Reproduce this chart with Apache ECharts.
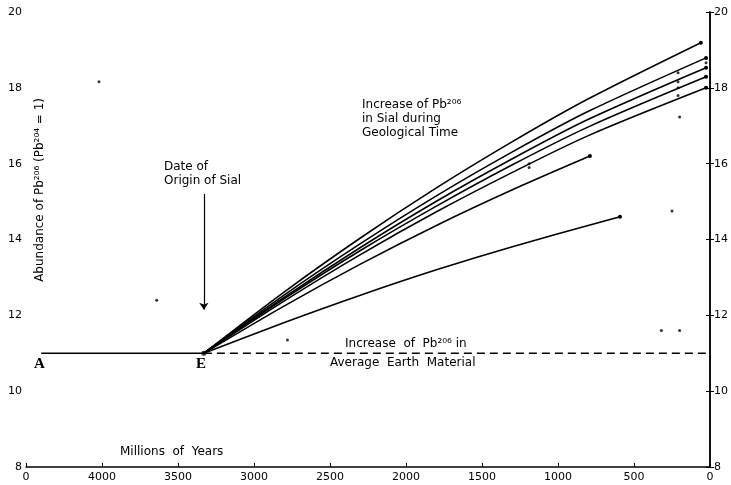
<!DOCTYPE html>
<html>
<head>
<meta charset="utf-8">
<script src="https://cdn.jsdelivr.net/npm/echarts@6/dist/echarts.min.js"></script>
<style>
  html, body { margin: 0; padding: 0; background: #fff; }
  #main { width: 731px; height: 485px; }
</style>
</head>
<body>
<div id="main"></div>
<script>
// x = millions of years before present (axis runs 4500 -> 0)
var xTicks = [4500, 4000, 3500, 3000, 2500, 2000, 1500, 1000, 500, 0];
var yTicks = [8, 10, 12, 14, 16, 18, 20];

// Pb206 abundance in average earth material
var earthYearsSolid = [4400, 3330];
var earthYearsDashed = [3330, 0];
var earthLevel = 11.0;

// growth curves of Pb206 in sial, starting at E
var curveYears = [3330, 2800, 2300, 1800, 1300, 800];
var endYears = [60, 26, 26, 26, 26];
var sial1 = [11.0, 12.62, 14.04, 15.36, 16.58, 17.71, 19.19];
var sial2 = [11.0, 12.54, 13.89, 15.15, 16.31, 17.38, 18.79];
var sial3 = [11.0, 12.48, 13.79, 15.01, 16.13, 17.17, 18.53];
var sial4 = [11.0, 12.44, 13.71, 14.88, 15.97, 16.97, 18.29];
var sial5 = [11.0, 12.38, 13.60, 14.73, 15.77, 16.74, 18.00];
var shortYears6 = [3330, 2800, 2300, 1800, 1300, 790];
var sial6 = [11.0, 12.25, 13.35, 14.37, 15.31, 16.20];
var shortYears7 = [3330, 2800, 2300, 1800, 1300, 592];
var sial7 = [11.0, 11.81, 12.53, 13.20, 13.81, 14.60];

// loose measured points
var dotYears = [210, 210, 210, 210, 200, 26, 1190, 1190, 250, 4020, 3640, 2780, 320, 200];
var dotValues = [18.4, 18.16, 18.0, 17.8, 17.23, 18.66, 16.0, 15.9, 14.75, 18.16, 12.4, 11.35, 11.6, 11.6];

function pairs(xs, ys) {
  return xs.map(function (x, i) { return [x, ys[i]]; });
}

var chart = echarts.init(document.getElementById('main'));
var font = 'DejaVu Sans';

var curves = [sial1, sial2, sial3, sial4, sial5].map(function (vals, k) {
  return pairs(curveYears.concat([endYears[k]]), vals);
});
curves.push(pairs(shortYears6, sial6));
curves.push(pairs(shortYears7, sial7));

var series = curves.map(function (d) {
  return {
    type: 'line',
    data: d,
    smooth: 0.3,
    showSymbol: true,
    symbol: 'circle',
    symbolSize: function (v, p) { return p.dataIndex === d.length - 1 ? 4 : 0; },
    lineStyle: { color: '#000', width: 1.6 },
    itemStyle: { color: '#000' },
    silent: true
  };
});

series.push({
  type: 'line',
  data: earthYearsSolid.map(function (x) { return [x, earthLevel]; }),
  showSymbol: false,
  lineStyle: { color: '#000', width: 1.3 }
});
series.push({
  type: 'line',
  data: earthYearsDashed.map(function (x) { return [x, earthLevel]; }),
  showSymbol: false,
  lineStyle: { color: '#000', width: 1.3, type: [8, 5] },
  markLine: {
    silent: true,
    symbol: ['none', 'arrow'],
    symbolSize: 7,
    label: { show: false },
    lineStyle: { color: '#000', width: 1.2, type: 'solid' },
    data: [[{ coord: [3330, 15.2] }, { coord: [3330, 12.15] }]]
  }
});
series.push({
  type: 'scatter',
  data: pairs(dotYears, dotValues),
  symbolSize: 3,
  itemStyle: { color: '#000' }
});
series.push({
  type: 'scatter',
  data: [[3330, earthLevel]],
  symbolSize: 5,
  itemStyle: { color: '#000' }
});

var labelStyle = { color: '#000', fontFamily: font, fontSize: 11 };

var option = {
  backgroundColor: '#fff',
  animation: false,
  grid: { left: 26, right: 21, top: 12, bottom: 18 },
  xAxis: {
    type: 'value',
    inverse: true,
    min: 0,
    max: 4500,
    interval: 500,
    splitLine: { show: false },
    axisLine: { lineStyle: { color: '#000', width: 1.5 } },
    axisTick: { inside: true, length: 4, lineStyle: { color: '#000' } },
    axisLabel: Object.assign({
      margin: 5,
      formatter: function (v) { return v === 4500 ? '0' : String(v); }
    }, labelStyle)
  },
  yAxis: [0, 1].map(function (i) {
    return {
      type: 'value',
      position: i ? 'right' : 'left',
      min: 8,
      max: 20,
      interval: 2,
      splitLine: { show: false },
      axisLine: { show: true, lineStyle: { color: '#000', width: 1.5 } },
      axisTick: { show: true, inside: true, length: 4, lineStyle: { color: '#000' } },
      axisLabel: Object.assign({ margin: 4 }, labelStyle)
    };
  }),
  graphic: [
    { type: 'text', left: 34, top: 98, rotation: Math.PI / 2, originX: 0, originY: 0,
      style: { text: 'Abundance of Pb²⁰⁶ (Pb²⁰⁴ = 1)', fill: '#000', font: '12px ' + font } },
    { type: 'text', left: 34, top: 357,
      style: { text: 'A', fill: '#000', font: 'bold 15px "Liberation Serif"' } },
    { type: 'text', left: 196, top: 357,
      style: { text: 'E', fill: '#000', font: 'bold 15px "Liberation Serif"' } },
    { type: 'text', left: 164, top: 160,
      style: { text: 'Date of\nOrigin of Sial', fill: '#000', font: '12px ' + font,
               align: 'center', lineHeight: 14, x: 40 } },
    { type: 'text', left: 362, top: 98,
      style: { text: 'Increase of Pb²⁰⁶\nin Sial during\nGeological Time', fill: '#000',
               font: '12px ' + font, align: 'center', lineHeight: 14, x: 58 } },
    { type: 'text', left: 345, top: 338,
      style: { text: 'Increase  of  Pb²⁰⁶ in', fill: '#000', font: '12px ' + font } },
    { type: 'text', left: 330, top: 357,
      style: { text: 'Average  Earth  Material', fill: '#000', font: '12px ' + font } },
    { type: 'text', left: 120, top: 446,
      style: { text: 'Millions  of  Years', fill: '#000', font: '12px ' + font } }
  ],
  series: series
};

chart.setOption(option);
</script>
</body>
</html>
